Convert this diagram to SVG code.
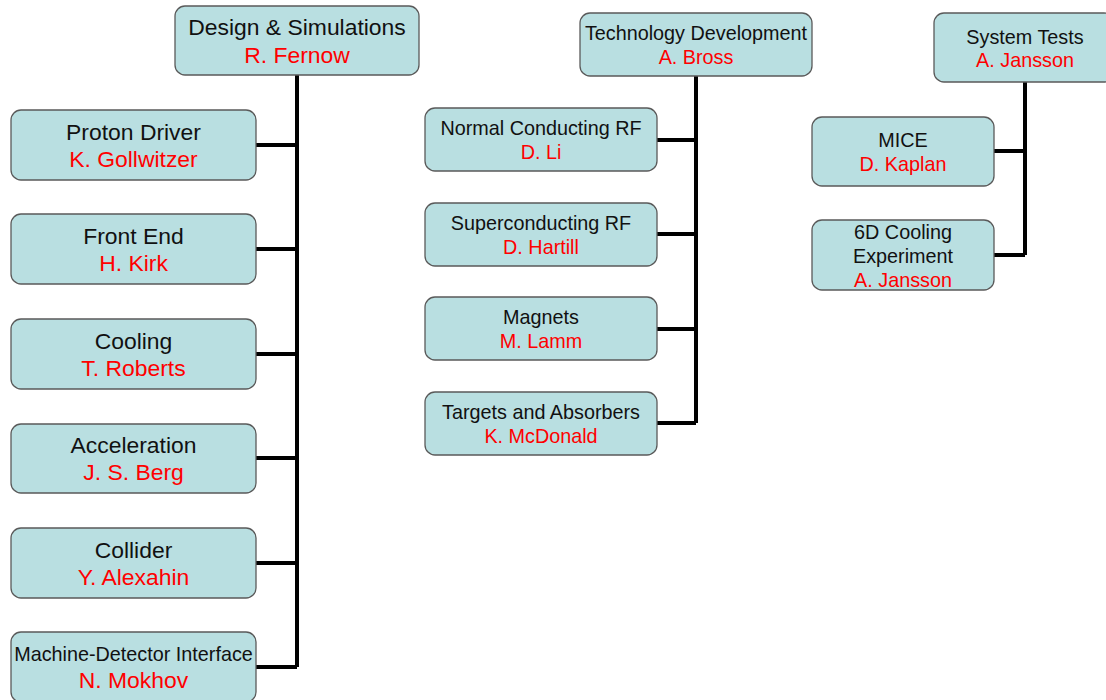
<svg xmlns="http://www.w3.org/2000/svg" width="1106" height="700" viewBox="0 0 1106 700">
<style>
.b{fill:#b9dfe1;stroke:#5a5a5a;stroke-width:1.3}
.t{font-family:"Liberation Sans",Arial,sans-serif;text-anchor:middle;fill:#111}
.n{fill:#ff0000}
.L{font-size:22.9px}
.S{font-size:19.8px}
.c{fill:none;stroke:#000;stroke-width:4}
</style>
<rect width="1106" height="700" fill="#fff"/>
<g id="connectors">
<path class="c" d="M297 75V667M256 145H297M256 249H297M256 354H297M256 458H297M256 563H297M256 667H297"/>
<path class="c" d="M696 76V423M657 140H696M657 234H696M657 329H696M657 423H696"/>
<path class="c" d="M1025 82V255M994 151H1025M994 255H1025"/>
</g>
<g id="design">
<rect class="b" x="175" y="6" width="244" height="69" rx="10"/>
<text class="t L" x="297" y="35">Design &amp; Simulations</text>
<text class="t L n" x="297" y="62.5">R. Fernow</text>
</g>
<g id="proton">
<rect class="b" x="11" y="110" width="245" height="70" rx="10"/>
<text class="t L" x="133.5" y="140">Proton Driver</text>
<text class="t L n" x="133.5" y="167">K. Gollwitzer</text>
</g>
<g id="frontend">
<rect class="b" x="11" y="214" width="245" height="70" rx="10"/>
<text class="t L" x="133.5" y="244">Front End</text>
<text class="t L n" x="133.5" y="271">H. Kirk</text>
</g>
<g id="cooling">
<rect class="b" x="11" y="319" width="245" height="70" rx="10"/>
<text class="t L" x="133.5" y="349">Cooling</text>
<text class="t L n" x="133.5" y="376">T. Roberts</text>
</g>
<g id="acceleration">
<rect class="b" x="11" y="424" width="245" height="69" rx="10"/>
<text class="t L" x="133.5" y="453">Acceleration</text>
<text class="t L n" x="133.5" y="480">J. S. Berg</text>
</g>
<g id="collider">
<rect class="b" x="11" y="528" width="245" height="70" rx="10"/>
<text class="t L" x="133.5" y="558">Collider</text>
<text class="t L n" x="133.5" y="585">Y. Alexahin</text>
</g>
<g id="mdi">
<rect class="b" x="11" y="632" width="245" height="70" rx="10"/>
<text class="t S" x="133.5" y="661">Machine-Detector Interface</text>
<text class="t L n" x="133.5" y="688">N. Mokhov</text>
</g>
<g id="techdev">
<rect class="b" x="580" y="13" width="232" height="63" rx="10"/>
<text class="t S" x="696" y="40">Technology Development</text>
<text class="t S n" x="696" y="63.5">A. Bross</text>
</g>
<g id="ncrf">
<rect class="b" x="425" y="108" width="232" height="63" rx="10"/>
<text class="t S" x="541" y="135">Normal Conducting RF</text>
<text class="t S n" x="541" y="159">D. Li</text>
</g>
<g id="scrf">
<rect class="b" x="425" y="203" width="232" height="63" rx="10"/>
<text class="t S" x="541" y="229.5">Superconducting RF</text>
<text class="t S n" x="541" y="253.5">D. Hartill</text>
</g>
<g id="magnets">
<rect class="b" x="425" y="297" width="232" height="63" rx="10"/>
<text class="t S" x="541" y="324">Magnets</text>
<text class="t S n" x="541" y="348">M. Lamm</text>
</g>
<g id="targets">
<rect class="b" x="425" y="392" width="232" height="63" rx="10"/>
<text class="t S" x="541" y="418.5">Targets and Absorbers</text>
<text class="t S n" x="541" y="442.5">K. McDonald</text>
</g>
<g id="systests">
<rect class="b" x="934" y="13" width="180" height="69" rx="10"/>
<text class="t S" x="1025" y="43.5">System Tests</text>
<text class="t S n" x="1025" y="67">A. Jansson</text>
</g>
<g id="mice">
<rect class="b" x="812" y="117" width="182" height="69" rx="10"/>
<text class="t S" x="903" y="147">MICE</text>
<text class="t S n" x="903" y="171">D. Kaplan</text>
</g>
<g id="cooling6d">
<rect class="b" x="812" y="220" width="182" height="70" rx="10"/>
<text class="t S" x="903" y="238.5">6D Cooling</text>
<text class="t S" x="903" y="262.5">Experiment</text>
<text class="t S n" x="903" y="286.5">A. Jansson</text>
</g>
</svg>
